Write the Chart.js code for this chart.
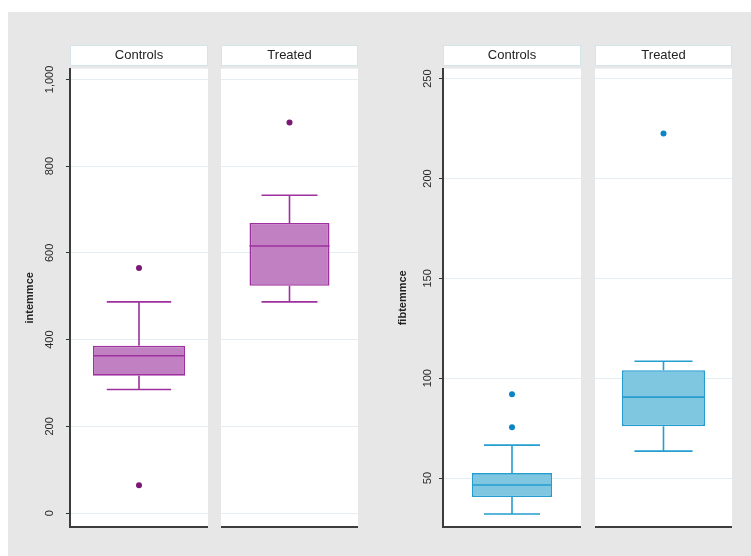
<!DOCTYPE html>
<html>
<head>
<meta charset="utf-8">
<script src="https://cdn.jsdelivr.net/npm/chart.js@4.4.0/dist/chart.umd.min.js"></script>
<style>
    body { margin: 0; background: #fff; }
    #lienzo { position: relative; width: 751px; height: 556px; overflow: hidden; background: #fff; }
    #fondo { position: absolute; left: 8px; top: 12px; width: 743px; height: 544px; background: #e7e7e7; }
    #lienzo canvas { position: absolute; top: 40px; }
</style>
</head>
<body>
<div id="lienzo">
    <div id="fondo"></div>
    <canvas id="intControls"></canvas>
    <canvas id="intTreated"></canvas>
    <canvas id="fibControls"></canvas>
    <canvas id="fibTreated"></canvas>
</div>
<script>
/* --- datos -------------------------------------------------------------- */
const grupos = ['Controls', 'Treated'];

const intQ1 = [317, 524];
const intMediana = [363, 616];
const intQ3 = [386, 669];
const intBigoteMin = [285, 487];
const intBigoteMax = [487, 733];
const intAtipicos = [[565, 64], [901]];
const intTicks = [0, 200, 400, 600, 800, 1000];

const fibQ1 = [40.5, 76];
const fibMediana = [46.5, 90.5];
const fibQ3 = [52.5, 104];
const fibBigoteMin = [32, 63.5];
const fibBigoteMax = [66.5, 108.5];
const fibAtipicos = [[92, 75.5], [222.5]];
const fibTicks = [50, 100, 150, 200, 250];

/* --- helpers ------------------------------------------------------------- */
const EJE = 70;       // ancho reservado al eje y
const ALTO = 490;

/* fondo blanco, franja del encabezado, bigotes y mediana */
const cajaPlugin = {
    id: 'caja',
    beforeDraw(chart) {
        const { ctx, chartArea: a } = chart;
        const t = chart.titleBlock;
        ctx.save();
        ctx.fillStyle = '#fff';
        ctx.fillRect(a.left, a.top, a.right - a.left, a.bottom - a.top);
        ctx.fillRect(a.left, t.top + 5, a.right - a.left, 21);
        ctx.strokeStyle = '#d4e4eb';
        ctx.lineWidth = 1;
        ctx.strokeRect(a.left + 0.5, t.top + 5.5, a.right - a.left - 1, 20);
        ctx.restore();
    },
    afterDatasetsDraw(chart, args, o) {
        const { ctx } = chart;
        const y = chart.scales.y;
        const bar = chart.getDatasetMeta(0).data[0];
        const cx = bar.x;
        const mitad = bar.width / 2;
        const cap = mitad * o.cap;
        const py = v => y.getPixelForValue(v);

        ctx.save();
        ctx.strokeStyle = o.color;
        ctx.lineWidth = 1.6;
        ctx.beginPath();
        ctx.moveTo(cx - mitad, py(o.mediana)); ctx.lineTo(cx + mitad, py(o.mediana));
        ctx.moveTo(cx, py(o.q3)); ctx.lineTo(cx, py(o.max));
        ctx.moveTo(cx - cap, py(o.max)); ctx.lineTo(cx + cap, py(o.max));
        ctx.moveTo(cx, py(o.q1)); ctx.lineTo(cx, py(o.min));
        ctx.moveTo(cx - cap, py(o.min)); ctx.lineTo(cx + cap, py(o.min));
        ctx.stroke();
        ctx.restore();
    }
};

/* sin relleno extra alrededor de los ejes */
function sinPadding(s) {
    s.paddingTop = 0;
    s.paddingBottom = 0;
    s.paddingLeft = 0;
    s.paddingRight = 0;
}

const charts = {};

function drawPanel(canvasId, cfg) {
    const canvas = document.getElementById(canvasId);
    const i = cfg.grupo;
    const conEje = i === 0;

    canvas.width = cfg.anchoArea + (conEje ? EJE : 0);
    canvas.height = ALTO;
    canvas.style.left = (cfg.izq - (conEje ? EJE : 0)) + 'px';

    const ejeY = {
        min: cfg.rango[0],
        max: cfg.rango[1],
        afterBuildTicks: s => { s.ticks = cfg.ticks.map(v => ({ value: v })); },
        afterFit: s => { s.width = conEje ? EJE : 0; sinPadding(s); },
        grid: { color: '#e3eef3', lineWidth: 1, drawTicks: conEje, tickLength: 4, tickColor: '#333', tickWidth: 1 },
        border: { display: conEje, color: '#3c3c3c', width: 2 },
        ticks: {
            display: conEje,
            autoSkip: false,
            minRotation: 90,
            maxRotation: 90,
            crossAlign: 'center',
            padding: 2,
            color: '#2a2a2a',
            font: { family: 'Arial', size: 11 },
            callback: v => v.toLocaleString('en-US')
        },
        title: {
            display: conEje,
            text: cfg.variable,
            color: '#222',
            font: { family: 'Arial', size: 11, weight: 'bold' },
            padding: { top: 23, bottom: 0 }
        }
    };

    charts[canvasId] = new Chart(canvas, {
        data: {
            labels: [grupos[i]],
            datasets: [
                {
                    type: 'bar',
                    data: [[cfg.q1[i], cfg.q3[i]]],
                    backgroundColor: cfg.relleno,
                    borderColor: cfg.borde,
                    borderWidth: 1.6,
                    borderSkipped: false,
                    barPercentage: cfg.anchoCaja,
                    categoryPercentage: 1
                },
                {
                    type: 'scatter',
                    data: cfg.atipicos[i].map(v => ({ x: grupos[i], y: v })),
                    backgroundColor: cfg.punto,
                    borderColor: cfg.punto,
                    pointRadius: 3,
                    pointBorderWidth: 0
                }
            ]
        },
        options: {
            responsive: false,
            animation: false,
            devicePixelRatio: 1,
            layout: { padding: 0, autoPadding: false },
            plugins: {
                legend: { display: false },
                tooltip: { enabled: false },
                title: {
                    display: true,
                    text: grupos[i],
                    fullSize: false,
                    color: '#222',
                    font: { family: 'Arial', size: 13, weight: 'normal' },
                    padding: { top: 8, bottom: 5 }
                },
                caja: {
                    color: cfg.borde,
                    cap: 0.7,
                    q1: cfg.q1[i], q3: cfg.q3[i], mediana: cfg.mediana[i],
                    min: cfg.bigMin[i], max: cfg.bigMax[i]
                }
            },
            scales: {
                x: {
                    type: 'category',
                    offset: true,
                    grid: { display: false },
                    ticks: { display: false },
                    border: { display: true, color: '#3c3c3c', width: 2 },
                    afterFit: s => { s.height = 3; sinPadding(s); }
                },
                y: ejeY
            }
        },
        plugins: [cajaPlugin]
    });
}

/* --- paneles ------------------------------------------------------------- */
const intemmce = {
    variable: 'intemmce', rango: [-32, 1025], ticks: intTicks,
    q1: intQ1, q3: intQ3, mediana: intMediana, bigMin: intBigoteMin, bigMax: intBigoteMax,
    atipicos: intAtipicos,
    relleno: '#c180c1', borde: '#9e309f', punto: '#7c1874'
};

const fibtemmce = {
    variable: 'fibtemmce', rango: [25.5, 255], ticks: fibTicks,
    q1: fibQ1, q3: fibQ3, mediana: fibMediana, bigMin: fibBigoteMin, bigMax: fibBigoteMax,
    atipicos: fibAtipicos,
    relleno: '#7fc6e1', borde: '#259dcf', punto: '#0b84c6'
};

drawPanel('intControls', { ...intemmce, grupo: 0, izq: 70, anchoArea: 138, anchoCaja: 0.667 });
drawPanel('intTreated', { ...intemmce, grupo: 1, izq: 221, anchoArea: 137, anchoCaja: 0.584 });
drawPanel('fibControls', { ...fibtemmce, grupo: 0, izq: 443, anchoArea: 138, anchoCaja: 0.58 });
drawPanel('fibTreated', { ...fibtemmce, grupo: 1, izq: 595, anchoArea: 137, anchoCaja: 0.606 });
</script>
</body>
</html>
